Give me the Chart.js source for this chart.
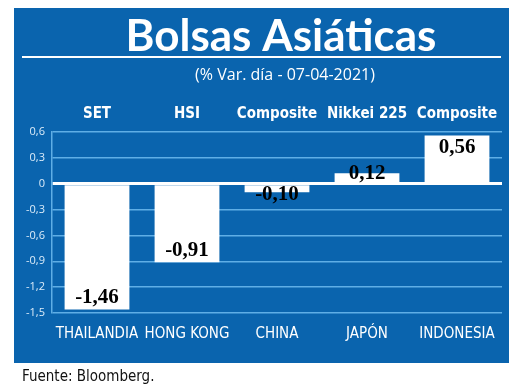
<!DOCTYPE html>
<html>
<head>
<meta charset="utf-8">
<script src="https://cdn.jsdelivr.net/npm/chart.js@4"></script>
<style>
  html, body { margin: 0; padding: 0; background: #fff; }
  #wrap { width: 520px; height: 392px; }
</style>
</head>
<body>
<div id="wrap"><canvas id="chart" width="520" height="392"></canvas></div>
<script>
// --- data ---
const countries = ['THAILANDIA', 'HONG KONG', 'CHINA', 'JAPÓN', 'INDONESIA'];
const indices = ['SET', 'HSI', 'Composite', 'Nikkei 225', 'Composite'];
const changes = [-1.46, -0.91, -0.10, 0.12, 0.56];
const yTicks = [-1.5, -1.2, -0.9, -0.6, -0.3, 0, 0.3, 0.6];

const TITLE = 'Bolsas Asiáticas';
const SUBTITLE = '(% Var. día - 07-04-2021)';
const SOURCE = 'Fuente: Bloomberg.';

const BLUE = '#0a64ae';
const GRID = '#5faee6';
const NARROW = "'Liberation Sans Narrow', 'DejaVu Sans Condensed', 'Liberation Sans', sans-serif";

const tickFmt = v => v === 0 ? '0' : v.toFixed(1).replace('.', ',');
const valFmt = v => v.toFixed(2).replace('.', ',');

// panel background, title, rule, subtitle and source line
const frame = {
    id: 'frame',
    beforeDraw(chart) {
        const c = chart.ctx;
        c.save();
        c.fillStyle = '#fff';
        c.fillRect(0, 0, chart.width, chart.height);
        c.fillStyle = BLUE;
        c.fillRect(14, 8, 495, 355);

        c.fillStyle = '#fff';
        c.textAlign = 'center';
        c.textBaseline = 'alphabetic';
        c.font = "bold 44px Lato, 'Open Sans', sans-serif";
        c.fillText(TITLE, 281, 51);

        c.fillRect(22, 56, 479, 2);

        c.font = "16px 'Open Sans', 'Liberation Sans', sans-serif";
        c.fillText(SUBTITLE, 285, 80);

        c.fillStyle = '#111';
        c.textAlign = 'left';
        c.font = '15px ' + NARROW;
        c.fillText(SOURCE, 22, 381);
        c.restore();
    },
};

// value labels inside the bars
const values = {
    id: 'values',
    afterDatasetsDraw(chart) {
        const c = chart.ctx;
        const meta = chart.getDatasetMeta(0);
        c.save();
        c.fillStyle = '#000';
        c.textAlign = 'center';
        c.textBaseline = 'middle';
        c.font = "bold 21px 'Liberation Serif', 'DejaVu Serif', serif";
        meta.data.forEach((bar, i) => {
            const v = changes[i];
            const len = Math.abs(bar.base - bar.y);
            let y = bar.y;
            if (len > 30) y += v < 0 ? -12 : 12;
            else if (v < 0) y += 2;
            c.fillText(valFmt(v), bar.x, y);
        });
        c.restore();
    },
};

new Chart(document.getElementById('chart'), {
    type: 'bar',
    data: {
        labels: countries,
        datasets: [{
            data: changes,
            backgroundColor: '#fff',
            borderWidth: 0,
            categoryPercentage: 1,
            barPercentage: 0.72,
            xAxisID: 'x',
        }],
    },
    options: {
        responsive: false,
        animation: false,
        events: [],
        layout: { padding: { left: 0, right: 18, top: 88, bottom: 45 } },
        plugins: { legend: { display: false }, tooltip: { enabled: false } },
        scales: {
            x: {
                position: 'bottom',
                grid: { display: false },
                border: { display: false },
                ticks: { color: '#fff', font: { family: NARROW, size: 15 }, padding: 4, maxRotation: 0, autoSkip: false },
                afterFit(s) { s.height = 34; },
            },
            x2: {
                position: 'top',
                type: 'category',
                labels: indices,
                grid: { display: false },
                border: { display: false },
                ticks: { color: '#fff', font: { family: NARROW, size: 15, weight: 'bold' }, padding: 1, maxRotation: 0, autoSkip: false },
                afterFit(s) { s.height = 44; },
            },
            y: {
                min: -1.5,
                max: 0.6,
                afterBuildTicks(s) { s.ticks = yTicks.map(v => ({ value: v })); },
                afterFit(s) { s.width = 52; },
                border: { display: true, color: GRID, width: 1.5 },
                grid: {
                    drawTicks: false,
                    color: ctx => ctx.tick && ctx.tick.value === 0 ? '#fff' : GRID,
                    lineWidth: ctx => ctx.tick && ctx.tick.value === 0 ? 3 : 1.5,
                },
                ticks: {
                    color: '#dcecf9',
                    font: { family: "'Open Sans', 'Liberation Sans', sans-serif", size: 11 },
                    padding: 7,
                    callback: v => tickFmt(v),
                },
            },
        },
    },
    plugins: [frame, values],
});
</script>
</body>
</html>
